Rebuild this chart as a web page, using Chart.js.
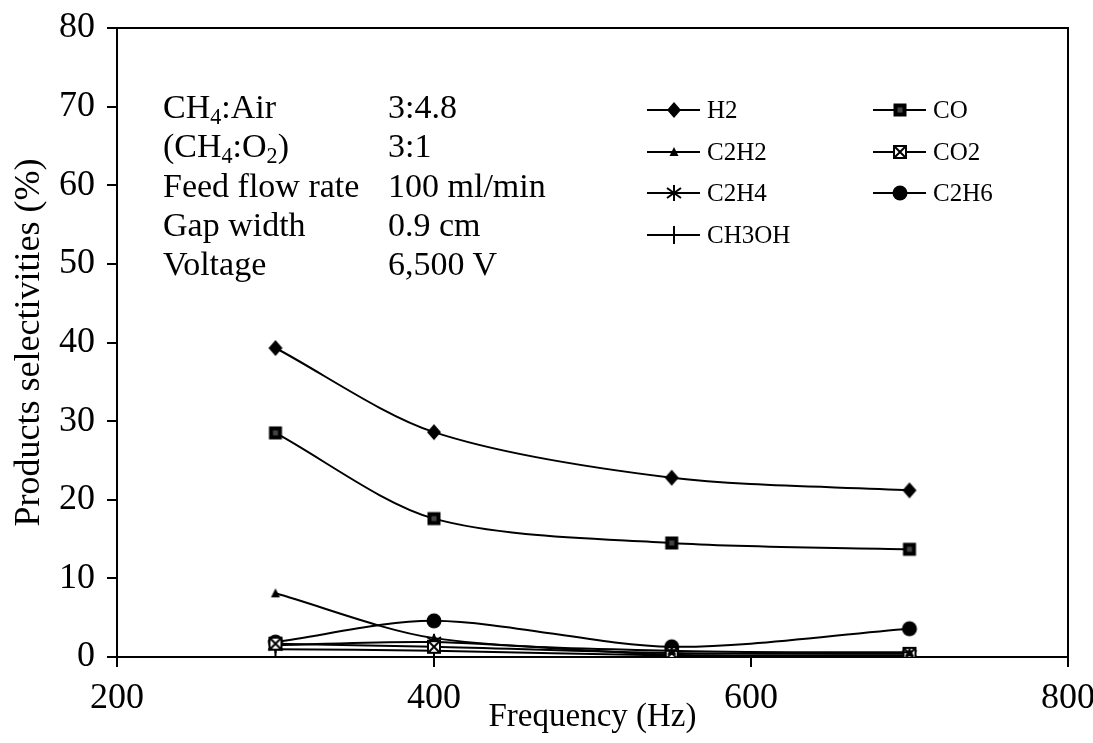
<!DOCTYPE html>
<html>
<head>
<meta charset="utf-8">
<script src="https://cdn.jsdelivr.net/npm/chart.js@4.4.1/dist/chart.umd.min.js"></script>
<style>
  html, body { margin: 0; padding: 0; background: #fff; }
  #wrap { position: relative; width: 1093px; height: 743px; overflow: hidden; }
  canvas#c { position: absolute; left: 0; top: 0; }
  .note { position: absolute; font-family: "Liberation Serif", "Times New Roman", serif; color: #000; font-size: 34px; line-height: 39.3px; white-space: nowrap; }
  .note sub { font-size: 0.65em; vertical-align: -0.25em; line-height: 0; }
  .leg { position: absolute; font-family: "Liberation Serif", "Times New Roman", serif; color: #000; font-size: 25px; white-space: nowrap; }
  .leg canvas { position: absolute; left: 0; top: 0; }
  .leg span { position: absolute; top: 0; line-height: 30px; }
</style>
</head>
<body>
<div id="wrap">
  <canvas id="c" width="1093" height="743"></canvas>
  <div class="note" style="left:163px; top:87px;">CH<sub>4</sub>:Air<br>(CH<sub>4</sub>:O<sub>2</sub>)<br>Feed flow rate<br>Gap width<br>Voltage</div>
  <div class="note" style="left:388px; top:87px;">3:4.8<br>3:1<br>100 ml/min<br>0.9 cm<br>6,500 V</div>
  <div id="legend"></div>
</div>
<script>
// ---- data ----
const frequencies = [300, 400, 550, 700];
const H2    = [39.3, 28.6, 22.8, 21.2];
const CO    = [28.5, 17.6, 14.5, 13.7];
const C2H2  = [8.1, 2.4, 0.8, 0.6];
const CO2   = [1.7, 1.3, 0.5, 0.4];
const C2H4  = [1.5, 1.9, 0.3, 0.2];
const C2H6  = [1.9, 4.6, 1.3, 3.6];
const CH3OH = [1.0, 0.8, 0.2, 0.1];
const xTicks = [200, 400, 600, 800];
const yTicks = [0, 10, 20, 30, 40, 50, 60, 70, 80];
const seriesNames = ['H2', 'CO', 'C2H2', 'CO2', 'C2H4', 'C2H6', 'CH3OH'];
const seriesValues = [H2, CO, C2H2, CO2, C2H4, C2H6, CH3OH];
const markerTypes = ['diamond', 'square', 'triangle', 'boxx', 'star', 'circle', 'plus'];

// ---- marker images ----
function drawMarker(ctx, type, cx, cy) {
  ctx.save();
  ctx.fillStyle = '#000';
  ctx.strokeStyle = '#000';
  ctx.lineWidth = 2;
  switch (type) {
    case 'diamond':
      ctx.beginPath();
      ctx.moveTo(cx, cy - 8); ctx.lineTo(cx + 7, cy); ctx.lineTo(cx, cy + 8); ctx.lineTo(cx - 7, cy); ctx.closePath();
      ctx.fill();
      break;
    case 'square':
      ctx.fillRect(cx - 6.5, cy - 6.5, 13, 13);
      ctx.fillStyle = '#444';
      ctx.fillRect(cx - 2.5, cy - 2.5, 5, 5);
      break;
    case 'triangle':
      ctx.beginPath();
      ctx.moveTo(cx, cy - 5); ctx.lineTo(cx + 4.5, cy + 4); ctx.lineTo(cx - 4.5, cy + 4); ctx.closePath();
      ctx.fill();
      break;
    case 'boxx':
      ctx.fillStyle = '#fff';
      ctx.fillRect(cx - 6, cy - 6, 12, 12);
      ctx.strokeRect(cx - 6, cy - 6, 12, 12);
      ctx.beginPath();
      ctx.moveTo(cx - 5, cy - 5); ctx.lineTo(cx + 5, cy + 5);
      ctx.moveTo(cx + 5, cy - 5); ctx.lineTo(cx - 5, cy + 5);
      ctx.stroke();
      break;
    case 'star':
      ctx.beginPath();
      ctx.moveTo(cx, cy - 8); ctx.lineTo(cx, cy + 8);
      ctx.moveTo(cx - 7, cy - 5); ctx.lineTo(cx + 7, cy + 5);
      ctx.moveTo(cx + 7, cy - 5); ctx.lineTo(cx - 7, cy + 5);
      ctx.stroke();
      break;
    case 'circle':
      ctx.beginPath();
      ctx.arc(cx, cy, 7.5, 0, Math.PI * 2);
      ctx.fill();
      break;
    case 'plus':
      ctx.beginPath();
      ctx.moveTo(cx, cy - 9); ctx.lineTo(cx, cy + 9);
      ctx.moveTo(cx - 7, cy); ctx.lineTo(cx + 7, cy);
      ctx.stroke();
      break;
  }
  ctx.restore();
}
function markerImage(type) {
  const c = document.createElement('canvas');
  c.width = 22; c.height = 22;
  drawMarker(c.getContext('2d'), type, 11, 11);
  return c;
}

// ---- legend (HTML text + small canvas symbols) ----
const legendEl = document.getElementById('legend');
const legCols = [647, 873];
const legRow0 = 95, legRowStep = 41.7;
seriesNames.forEach((name, i) => {
  const col = i % 2, row = Math.floor(i / 2);
  const d = document.createElement('div');
  d.className = 'leg';
  d.style.left = legCols[col] + 'px';
  d.style.top = (legRow0 + row * legRowStep) + 'px';
  const cv = document.createElement('canvas');
  cv.width = 56; cv.height = 30;
  const g = cv.getContext('2d');
  g.strokeStyle = '#000'; g.lineWidth = 2;
  g.beginPath(); g.moveTo(0, 15); g.lineTo(53, 15); g.stroke();
  drawMarker(g, markerTypes[i], 27, 15);
  d.appendChild(cv);
  const s = document.createElement('span');
  s.style.left = '60px';
  s.textContent = name;
  d.appendChild(s);
  legendEl.appendChild(d);
});

// ---- chart ----
const datasets = seriesNames.map((name, i) => ({
  label: name,
  data: frequencies.map((f, j) => ({ x: f, y: seriesValues[i][j] })),
  borderColor: '#000',
  backgroundColor: '#000',
  borderWidth: 2,
  tension: 0.3,
  pointStyle: markerImage(markerTypes[i]),
  pointRadius: 8,
  fill: false
}));

const framePlugin = {
  id: 'frame',
  afterDraw(chart) {
    const { ctx, chartArea } = chart;
    ctx.save();
    ctx.strokeStyle = '#000';
    ctx.lineWidth = 2;
    ctx.beginPath();
    ctx.moveTo(chartArea.left, chartArea.top);
    ctx.lineTo(chartArea.right, chartArea.top);
    ctx.lineTo(chartArea.right, chartArea.bottom);
    ctx.stroke();
    ctx.restore();
  }
};

const serif = '"Liberation Serif", "Times New Roman", serif';
new Chart(document.getElementById('c'), {
  type: 'line',
  data: { datasets },
  plugins: [framePlugin],
  options: {
    responsive: false,
    devicePixelRatio: 1,
    animation: false,
    layout: { padding: { top: 28, right: 25, left: 0, bottom: 0 } },
    plugins: { legend: { display: false }, tooltip: { enabled: false } },
    scales: {
      x: {
        type: 'linear',
        min: 200, max: 800,
        afterBuildTicks(scale) { scale.ticks = xTicks.map(v => ({ value: v })); },
        afterFit(scale) { scale.height = 86; scale.paddingLeft = 0; scale.paddingRight = 0; },
        ticks: { color: '#000', font: { family: serif, size: 36 }, padding: 10, maxRotation: 0, autoSkip: false },
        grid: { drawOnChartArea: false, drawTicks: true, tickLength: 10, color: '#000', lineWidth: 2 },
        border: { display: true, color: '#000', width: 2 },
        title: { display: true, text: 'Frequency (Hz)', color: '#000', font: { family: serif, size: 33 }, padding: { top: 0, bottom: 6 } }
      },
      y: {
        type: 'linear',
        min: 0, max: 80,
        afterBuildTicks(scale) { scale.ticks = yTicks.map(v => ({ value: v })); },
        afterFit(scale) { scale.width = 117; scale.paddingTop = 0; scale.paddingBottom = 0; },
        ticks: { color: '#000', font: { family: serif, size: 36 }, padding: 12, autoSkip: false },
        grid: { drawOnChartArea: false, drawTicks: true, tickLength: 10, color: '#000', lineWidth: 2 },
        border: { display: true, color: '#000', width: 2 },
        title: { display: true, text: 'Products selectivities (%)', color: '#000', font: { family: serif, size: 36 }, padding: { top: 8, bottom: 0 } }
      }
    }
  }
});
</script>
</body>
</html>
